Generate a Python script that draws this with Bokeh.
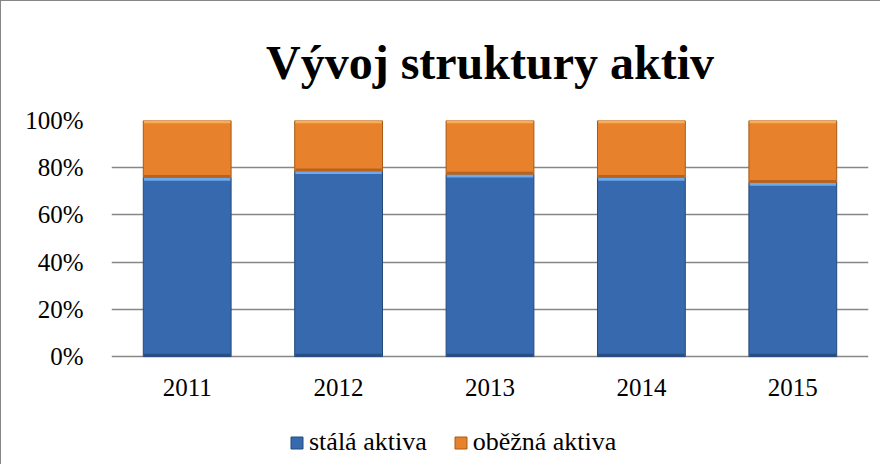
from bokeh.plotting import figure
from bokeh.models import ColumnDataSource, Legend, LegendItem, NumeralTickFormatter, FixedTicker, Title
from bokeh.core.properties import value
from bokeh.embed import file_html
from bokeh.resources import INLINE

years = ["2011", "2012", "2013", "2014", "2015"]
stala = [0.757, 0.785, 0.771, 0.757, 0.736]
obezna = [1 - v for v in stala]
y_ticks = [0, 0.2, 0.4, 0.6, 0.8, 1.0]

FONT = "Liberation Serif"
BLUE = "#3669AD"
BLUE_HI = "#6FA9EC"
BLUE_LO = "#284F85"
BLUE_LINE = "#244A7C"
ORANGE = "#E8812B"
ORANGE_HI = "#F9AD57"
ORANGE_LO = "#B8621C"
ORANGE_LINE = "#A85A16"

total = [a + b for a, b in zip(stala, obezna)]
src = ColumnDataSource(dict(
    x=years,
    zero=[0.0] * len(years),
    stala=stala,
    total=total,
    stala_hi=[a - 0.012 for a in stala],
    total_hi=[t - 0.012 for t in total],
    stala_lo=[0.012] * len(years),
    obezna_lo=[a + 0.012 for a in stala],
))

p = figure(width=880, height=464, x_range=years, y_range=(-0.453, 1),
           output_backend="svg", toolbar_location=None,
           min_border_left=110, min_border_right=13,
           min_border_top=117, min_border_bottom=2)
p.outline_line_color = None
p.styles = {"border-left": "1px solid #868686", "border-top": "1px solid #868686"}

t = Title(text="Vývoj struktury aktiv", align="center", text_font=FONT,
          text_font_size="48px", text_font_style="bold", text_color="#000000",
          standoff=64)
p.add_layout(t, "above")

W = 0.58
r1 = p.vbar(x="x", top="stala", bottom=0, width=W, source=src,
            fill_color=BLUE, line_color=BLUE_LINE, line_width=1)
r2 = p.vbar(x="x", top="total", bottom="stala", width=W, source=src,
            fill_color=ORANGE, line_color=ORANGE_LINE, line_width=1)
p.vbar(x="x", top="stala", bottom="stala_hi", width=W - 0.01, source=src,
       fill_color=BLUE_HI, line_color=None)
p.vbar(x="x", top="total", bottom="total_hi", width=W - 0.01, source=src,
       fill_color=ORANGE_HI, line_color=None)
p.vbar(x="x", top="stala_lo", bottom=0, width=W - 0.01, source=src,
       fill_color=BLUE_LO, line_color=None)
p.vbar(x="x", top="obezna_lo", bottom="stala", width=W - 0.01, source=src,
       fill_color=ORANGE_LO, line_color=None)

# category labels under the 0 % line
p.text(x="x", y="zero", text="x", source=src, text_align="center",
       text_baseline="middle", y_offset=31, text_font=value(FONT),
       text_font_size="25px", text_color="#000000")

p.xaxis.visible = False
p.xgrid.grid_line_color = None
p.ygrid.ticker = FixedTicker(ticks=y_ticks)
p.ygrid.grid_line_color = "#878787"
p.ygrid.grid_line_width = 1.5
p.ygrid.level = "underlay"
p.yaxis.ticker = FixedTicker(ticks=y_ticks)
p.yaxis.formatter = NumeralTickFormatter(format="0%")
p.yaxis.axis_line_color = None
p.yaxis.major_tick_line_color = None
p.yaxis.minor_tick_line_color = None
p.yaxis.major_label_text_font = FONT
p.yaxis.major_label_text_font_size = "25px"
p.yaxis.major_label_text_color = "#000000"
p.yaxis.major_label_standoff = 22

legend = Legend(items=[LegendItem(label="stálá aktiva", renderers=[r1]),
                       LegendItem(label="oběžná aktiva", renderers=[r2])],
                orientation="horizontal", location=(178, 6),
                label_text_font=FONT, label_text_font_size="26px",
                label_text_color="#000000",
                glyph_width=15, glyph_height=15, label_standoff=5, spacing=26,
                border_line_color=None, background_fill_alpha=0, margin=0, padding=4)
p.add_layout(legend, "center")

open("out.html", "w").write(file_html(p, INLINE))
